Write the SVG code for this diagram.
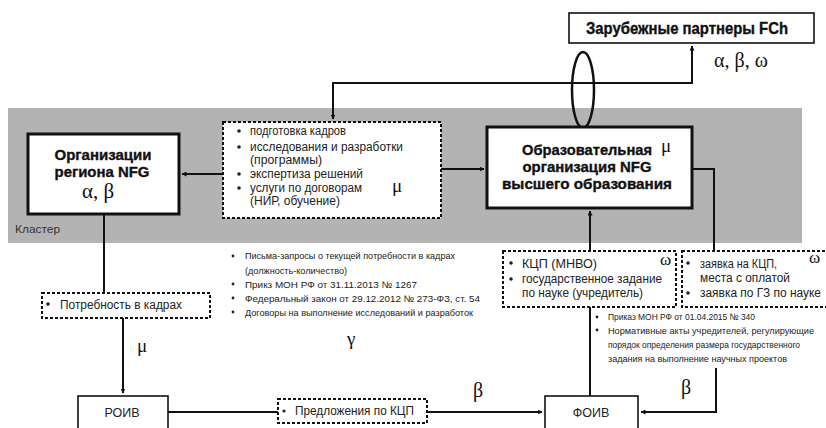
<svg xmlns="http://www.w3.org/2000/svg" width="826" height="428" viewBox="0 0 826 428">
<defs>
<marker id="ah" viewBox="0 0 10 10" refX="9" refY="5" markerWidth="5" markerHeight="5" orient="auto-start-reverse" markerUnits="userSpaceOnUse">
<path d="M0,0 L10,5 L0,10 z" fill="#111"/>
</marker>
<style>
.bg{fill:#b3b3b3}
.box{fill:#fff;stroke:#111;stroke-width:3}
.sbox{fill:#fff;stroke:#111;stroke-width:1.6}
.dbox{fill:#fff;stroke:#111;stroke-width:2;stroke-dasharray:3 2}
.ln{fill:none;stroke:#111;stroke-width:2}
.ttl{font-family:"Liberation Sans Narrow","Liberation Sans",Arial,sans-serif;font-weight:bold;fill:#111;stroke:#111;stroke-width:0.35}
.t{font-family:"Liberation Sans Narrow","Liberation Sans",Arial,sans-serif;fill:#222;font-size:12.5px}
.s{font-family:"Liberation Sans Narrow","Liberation Sans",Arial,sans-serif;fill:#222;font-size:9.5px}
.g{font-family:"Liberation Serif","Times New Roman",serif;fill:#111}
.bul{fill:#222}
</style>
</defs>
<rect class="bg" x="8" y="108" width="794" height="135"/>
<text class="t" x="15" y="233" style="fill:#333;font-size:11.5px" textLength="45" lengthAdjust="spacingAndGlyphs">Кластер</text>

<g id="connectors">
<path class="ln" d="M692,46 L692,83 L333,83 L333,119" marker-start="url(#ah)" marker-end="url(#ah)"/>
<path class="ln" d="M223,174 L182,174" marker-end="url(#ah)"/>
<path class="ln" d="M441,169 L484,169" marker-end="url(#ah)"/>
<path class="ln" d="M104,214 L104,293"/>
<path class="ln" d="M123,318 L123,393" marker-end="url(#ah)"/>
<path class="ln" d="M167,412 L278,412"/>
<path class="ln" d="M427,412 L542,412" marker-end="url(#ah)"/>
<path class="ln" d="M590,307 L590,396"/>
<path class="ln" d="M590,251 L590,211" marker-end="url(#ah)"/>
<path class="ln" d="M692,169 L714,169 L714,251"/>
<path class="ln" d="M716,368 L716,412 L641,412" marker-end="url(#ah)"/>
<ellipse cx="583" cy="90" rx="11" ry="38" fill="none" stroke="#111" stroke-width="2.5"/>
</g>

<g id="partners">
<rect x="569" y="13" width="245" height="30" fill="#fff" stroke="#111" stroke-width="1.6"/>
<text class="ttl" x="586" y="34" font-size="16.5" textLength="202" lengthAdjust="spacingAndGlyphs">Зарубежные партнеры FCh</text>
</g>
<text class="g" x="714" y="67" font-size="20">α, β, ω</text>

<g id="org-region">
<rect class="box" x="28" y="134" width="151" height="80"/>
<text class="ttl" x="103" y="160" font-size="15.5" text-anchor="middle" textLength="97" lengthAdjust="spacingAndGlyphs">Организации</text>
<text class="ttl" x="102" y="177" font-size="15.5" text-anchor="middle" textLength="95" lengthAdjust="spacingAndGlyphs">региона NFG</text>
<text class="g" x="98" y="198" font-size="21" text-anchor="middle">α, β</text>
</g>

<g id="services">
<rect class="dbox" x="223" y="122" width="218" height="96"/>
<g class="bul"><circle cx="239" cy="131" r="1.8"/><circle cx="239" cy="147" r="1.8"/><circle cx="239" cy="174" r="1.8"/><circle cx="239" cy="188" r="1.8"/></g>
<text class="t" x="250" y="135" textLength="96" lengthAdjust="spacingAndGlyphs">подготовка кадров</text>
<text class="t" x="250" y="151" textLength="153" lengthAdjust="spacingAndGlyphs">исследования и разработки</text>
<text class="t" x="250" y="164" textLength="72" lengthAdjust="spacingAndGlyphs">(программы)</text>
<text class="t" x="250" y="178" textLength="113" lengthAdjust="spacingAndGlyphs">экспертиза решений</text>
<text class="t" x="250" y="192" textLength="112" lengthAdjust="spacingAndGlyphs">услуги по договорам</text>
<text class="t" x="250" y="205" textLength="90" lengthAdjust="spacingAndGlyphs">(НИР, обучение)</text>
<text class="g" x="392" y="192" font-size="19">μ</text>
</g>

<g id="university">
<rect class="box" x="487" y="127" width="205" height="81"/>
<text class="ttl" x="587" y="155" font-size="15.5" text-anchor="middle" textLength="130" lengthAdjust="spacingAndGlyphs">Образовательная</text>
<text class="ttl" x="587" y="172" font-size="15.5" text-anchor="middle" textLength="129" lengthAdjust="spacingAndGlyphs">организация NFG</text>
<text class="ttl" x="587" y="189" font-size="15.5" text-anchor="middle" textLength="170" lengthAdjust="spacingAndGlyphs">высшего образования</text>
<text class="g" x="661" y="152" font-size="19">μ</text>
</g>

<g id="need">
<rect class="dbox" x="42" y="293" width="168" height="25"/>
<circle class="bul" cx="48" cy="304" r="1.8"/>
<text class="t" x="60" y="309" textLength="122" lengthAdjust="spacingAndGlyphs">Потребность в кадрах</text>
</g>
<text class="g" x="137" y="352" font-size="19">μ</text>

<g id="docs1">
<g class="bul"><circle cx="233" cy="256" r="1.4"/><circle cx="233" cy="284" r="1.4"/><circle cx="233" cy="298" r="1.4"/><circle cx="233" cy="312" r="1.4"/></g>
<text class="s" x="245" y="259" textLength="210" lengthAdjust="spacingAndGlyphs">Письма-запросы о текущей потребности в кадрах</text>
<text class="s" x="245" y="274" textLength="102" lengthAdjust="spacingAndGlyphs">(должность-количество)</text>
<text class="s" x="245" y="288" textLength="172" lengthAdjust="spacingAndGlyphs">Прикз МОН РФ от 31.11.2013 № 1267</text>
<text class="s" x="245" y="302" textLength="235" lengthAdjust="spacingAndGlyphs">Федеральный закон от 29.12.2012 № 273-ФЗ, ст. 54</text>
<text class="s" x="245" y="316" textLength="228" lengthAdjust="spacingAndGlyphs">Договоры на выполнение исследований и разработок</text>
<text class="g" x="347" y="345" font-size="19">γ</text>
</g>

<g id="kcp">
<rect class="dbox" x="503" y="251" width="173" height="56"/>
<g class="bul"><circle cx="511" cy="263" r="1.8"/><circle cx="511" cy="279" r="1.8"/></g>
<text class="t" x="522" y="268" textLength="75" lengthAdjust="spacingAndGlyphs">КЦП (МНВО)</text>
<text class="t" x="522" y="283" textLength="140" lengthAdjust="spacingAndGlyphs">государственное задание</text>
<text class="t" x="522" y="297" textLength="121" lengthAdjust="spacingAndGlyphs">по науке (учредитель)</text>
<text class="g" x="660" y="265" font-size="17">ω</text>
</g>

<g id="request">
<rect class="dbox" x="682" y="251" width="150" height="56"/>
<g class="bul"><circle cx="688" cy="263" r="1.8"/><circle cx="688" cy="293" r="1.8"/></g>
<text class="t" x="700" y="268" textLength="77" lengthAdjust="spacingAndGlyphs">заявка на КЦП,</text>
<text class="t" x="700" y="282" textLength="90" lengthAdjust="spacingAndGlyphs">места с оплатой</text>
<text class="t" x="700" y="297" textLength="121" lengthAdjust="spacingAndGlyphs">заявка по ГЗ по науке</text>
<text class="g" x="809" y="263" font-size="17">ω</text>
</g>

<g id="docs2">
<g class="bul"><circle cx="597" cy="317" r="1.4"/><circle cx="597" cy="330" r="1.4"/></g>
<text class="s" x="608" y="320" textLength="147" lengthAdjust="spacingAndGlyphs">Приказ МОН РФ от 01.04.2015 № 340</text>
<text class="s" x="608" y="334" textLength="206" lengthAdjust="spacingAndGlyphs">Нормативные акты учредителей, регулирующие</text>
<text class="s" x="608" y="348" textLength="192" lengthAdjust="spacingAndGlyphs">порядок определения размера государственного</text>
<text class="s" x="608" y="362" textLength="179" lengthAdjust="spacingAndGlyphs">задания на выполнение научных проектов</text>
</g>

<g id="roiv">
<rect class="sbox" x="78" y="396" width="90" height="40"/>
<text class="t" x="122" y="417" text-anchor="middle" font-size="12">РОИВ</text>
</g>

<g id="proposals">
<rect class="dbox" x="278" y="399" width="149" height="24"/>
<circle class="bul" cx="284" cy="411" r="1.6"/>
<text class="t" x="295" y="415" font-size="12" textLength="119" lengthAdjust="spacingAndGlyphs">Предложения по КЦП</text>
</g>
<text class="g" x="473" y="397" font-size="20">β</text>

<g id="foiv">
<rect class="sbox" x="545" y="396" width="93" height="40"/>
<text class="t" x="591" y="417" text-anchor="middle" font-size="12">ФОИВ</text>
</g>
<text class="g" x="681" y="394" font-size="20">β</text>
</svg>
